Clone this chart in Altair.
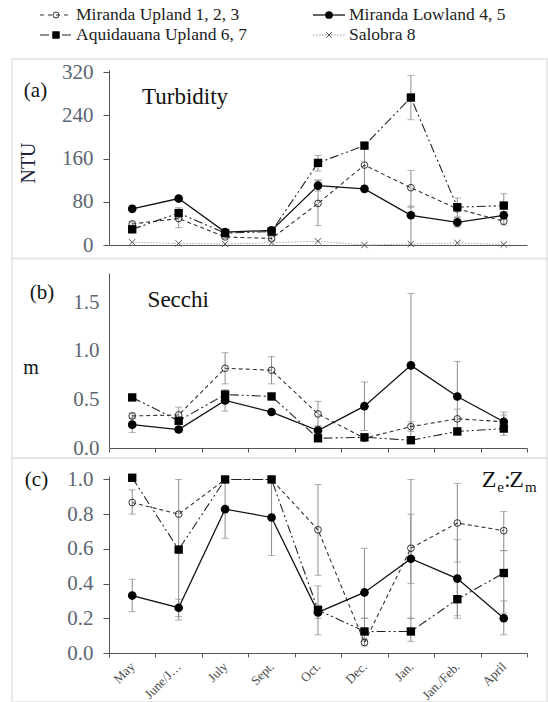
import json
import altair as alt
import pandas as pd

FONT = "'Liberation Serif', 'Times New Roman', Times, serif"

months = ["May", "June/July", "July", "Sept.", "Oct.", "Dec.", "Jan.", "Jan./Feb.", "April"]
series_names = ["Miranda Upland 1, 2, 3", "Miranda Lowland 4, 5",
                "Aquidauana Upland 6, 7", "Salobra 8"]

# ---- (a) Turbidity, NTU ----
turb_up = [39, 49, 15, 12, 77, 148, 106, 67, 44]
turb_up_lo = [35, 32, 12, 9, 36, 110, 70, None, 37]
turb_up_hi = [43, 69, 18, 15, 120, 180, 138, None, 49]
turb_low = [67, 86, 24, 27, 110, 104, 55, 42, 55]
turb_low_lo = [61, 82, 21, 22, 100, None, 0, 33, 47]
turb_low_hi = [73, 90, 27, 32, 120, None, 72, 51, 62]
turb_aq = [29, 59, 22, 25, 152, 184, 273, 70, 73]
turb_aq_lo = [26, 50, 19, 21, 137, None, 232, 52, 50]
turb_aq_hi = [32, 66, 25, 30, 166, None, 314, 87, 95]
turb_sal = [5, 3, 2, 4, 7, 0, 2, 4, 1]

# ---- (b) Secchi, m ----
sec_up = [0.33, 0.34, 0.82, 0.80, 0.35, 0.10, 0.22, 0.30, 0.27]
sec_up_lo = [0.30, 0.28, 0.66, 0.66, 0.22, None, 0.17, 0.21, 0.20]
sec_up_hi = [0.36, 0.42, 0.98, 0.94, 0.48, None, 0.27, 0.40, 0.34]
sec_low = [0.24, 0.19, 0.49, 0.37, 0.18, 0.43, 0.85, 0.53, 0.27]
sec_low_lo = [0.16, 0.16, 0.38, None, 0.13, 0.18, 0.11, 0.17, 0.13]
sec_low_hi = [0.31, 0.22, 0.60, None, 0.23, 0.68, 1.59, 0.89, 0.37]
sec_aq = [0.52, 0.28, 0.55, 0.53, 0.10, 0.11, 0.08, 0.17, 0.20]

# ---- (c) Ze:Zm ----
zz_up = [0.867, 0.80, 1.0, 1.0, 0.71, 0.061, 0.604, 0.749, 0.705]
zz_up_lo = [0.80, None, None, None, 0.448, 0.04, 0.20, 0.524, 0.59]
zz_up_hi = [0.94, None, None, None, 0.971, 0.08, 1.0, 0.977, 0.815]
zz_low = [0.331, 0.261, 0.829, 0.781, 0.234, 0.349, 0.543, 0.429, 0.20]
zz_low_lo = [0.238, 0.19, 0.661, 0.562, 0.105, 0.20, 0.40, 0.215, 0.105]
zz_low_hi = [0.425, 0.31, 1.0, 1.0, 0.387, 0.604, 0.80, 0.653, 0.30]
zz_aq = [1.01, 0.596, 1.0, 1.0, 0.248, 0.124, 0.124, 0.31, 0.461]
zz_aq_lo = [None, 0.21, None, None, 0.20, 0.067, 0.067, 0.20, 0.229]
zz_aq_hi = [None, 1.0, None, None, 0.276, 0.20, 0.20, 0.41, 0.59]

NONE9 = [None] * 9


def long_df(entries):
    rows = []
    for name, vals, lo, hi in entries:
        for i, m in enumerate(months):
            rows.append({"idx": i, "month": m, "series": name, "value": vals[i],
                         "lo": lo[i], "hi": hi[i]})
    return pd.DataFrame(rows)


df_a = long_df([
    (series_names[0], turb_up, turb_up_lo, turb_up_hi),
    (series_names[1], turb_low, turb_low_lo, turb_low_hi),
    (series_names[2], turb_aq, turb_aq_lo, turb_aq_hi),
    (series_names[3], turb_sal, NONE9, NONE9),
])
df_b = long_df([
    (series_names[0], sec_up, sec_up_lo, sec_up_hi),
    (series_names[1], sec_low, sec_low_lo, sec_low_hi),
    (series_names[2], sec_aq, NONE9, NONE9),
])
df_c = long_df([
    (series_names[0], zz_up, zz_up_lo, zz_up_hi),
    (series_names[1], zz_low, zz_low_lo, zz_low_hi),
    (series_names[2], zz_aq, zz_aq_lo, zz_aq_hi),
])

STYLES = {
    series_names[0]: dict(dash=[4, 3], width=1.1, color="#333333", shape="circle",
                          filled=False, size=45, pcolor="#333333"),
    series_names[1]: dict(dash=None, width=1.3, color="#111111", shape="circle",
                          filled=True, size=75, pcolor="#000000"),
    series_names[2]: dict(dash=[9, 3, 2, 3, 2, 3], width=1.1, color="#222222",
                          shape="square", filled=True, size=70, pcolor="#000000"),
    series_names[3]: dict(dash=[1.5, 1.5], width=1.0, color="#a8a8a8",
                          shape="M-1,-1L1,1M-1,1L1,-1", filled=False, size=40,
                          pcolor="#555555"),
}

EB = "#8c8c8c"
W = 418
TICKLAB = "#5c6572"


def x_enc(show_labels, show_ticks):
    vals = [i / 2 - 0.5 for i in range(19)]
    expr = "datum.value % 1 === 0 ? " + json.dumps(months) + "[datum.value] : ''"
    axis = alt.Axis(
        values=vals, title=None, grid=False, labels=show_labels, labelExpr=expr,
        labelAngle=-45, labelAlign="right", labelBaseline="middle",
        labelFont=FONT, labelFontSize=13, labelColor="#4a4a4a", labelLimit=49,
        labelOverlap=False, labelFlush=False, labelPadding=7,
        ticks=show_ticks, tickSize=4, tickColor="#555555",
        tickOpacity={"condition": {"test": "datum.value % 1 !== 0", "value": 1}, "value": 0},
        domainColor="#555555",
    )
    return alt.X("idx:Q", scale=alt.Scale(domain=[-0.5, 8.5], nice=False), axis=axis)


def y_axis(values, fmt, ticks):
    return alt.Axis(values=values, format=fmt, title=None, grid=False,
                    labelFont=FONT, labelFontSize=21, labelColor=TICKLAB,
                    labelPadding=10, ticks=ticks, tickSize=6, tickColor="#555555",
                    domainColor="#555555")


def text(t, x, y, size, align="left", baseline="alphabetic", color="#111111", angle=0):
    return alt.Chart(pd.DataFrame({"t": [t]})).mark_text(
        font=FONT, fontSize=size, align=align, baseline=baseline, color=color, angle=angle
    ).encode(text="t:N", x=alt.value(x), y=alt.value(y))


def border(y0, y1):
    return alt.Chart(pd.DataFrame({"k": [0]})).mark_rect(
        fillOpacity=0, stroke="#e2e2e2", strokeWidth=1.5
    ).encode(x=alt.value(12 - 109), x2=alt.value(547 - 109), y=alt.value(y0), y2=alt.value(y1))


def panel(df, domain, values, fmt, height, show_labels, xticks, yticks, extras):
    X = x_enc(show_labels, xticks)
    scale = alt.Scale(domain=domain, nice=False, zero=False)
    yax = y_axis(values, fmt, yticks)
    layers = list(extras[:1])
    err_layers, line_layers, pt_layers = [], [], []
    for s in df["series"].unique():
        st = STYLES[s]
        base = alt.Chart(df).transform_filter(alt.datum.series == s)
        err = base.transform_filter("isValid(datum.lo) && isValid(datum.hi)")
        err_layers.append(err.mark_rule(color=EB, strokeWidth=1).encode(
            x=X, y=alt.Y("lo:Q", scale=scale, axis=yax), y2="hi:Q"))
        for f in ("lo", "hi"):
            err_layers.append(err.mark_tick(orient="horizontal", size=7, thickness=1,
                                            color=EB).encode(
                x=X, y=alt.Y(f + ":Q", scale=scale, axis=yax)))
        lkw = dict(color=st["color"], strokeWidth=st["width"])
        if st["dash"]:
            lkw["strokeDash"] = st["dash"]
        line_layers.append(base.mark_line(**lkw).encode(
            x=X, y=alt.Y("value:Q", scale=scale, axis=yax)))
        pkw = dict(shape=st["shape"], filled=st["filled"], size=st["size"],
                   color=st["pcolor"], opacity=1, strokeWidth=1)
        pt_layers.append(base.mark_point(**pkw).encode(
            x=X, y=alt.Y("value:Q", scale=scale, axis=yax)))
    layers += err_layers + line_layers + pt_layers + list(extras[1:])
    return alt.layer(*layers).properties(width=W, height=height)


# ---- legend ----
leg_rows = [0, 0, 1, 1]
leg_cols = [0, 1, 0, 1]
leg_df = pd.DataFrame({"series": series_names, "row": leg_rows, "col": leg_cols})
LX = alt.X("col:Q", scale=alt.Scale(domain=[0, 1], range=[-69, 204]), axis=None)
LY = alt.Y("row:Q", scale=alt.Scale(domain=[0, 1], range=[15, 35]), axis=None)

leg_layers = [
    alt.Chart(pd.DataFrame({"k": [0]})).mark_rect(opacity=0).encode(
        x=alt.value(-109), x2=alt.value(548 - 109), y=alt.value(0), y2=alt.value(702))
]
for s in series_names:
    st = STYLES[s]
    b = alt.Chart(leg_df).transform_filter(alt.datum.series == s)
    rkw = dict(color=st["color"] if s != series_names[3] else "#999999",
               strokeWidth=st["width"], x2Offset=32)
    if st["dash"]:
        rkw["strokeDash"] = st["dash"] if s != series_names[0] else [4, 4]
    leg_layers.append(b.mark_rule(**rkw).encode(x=LX, x2="col:Q", y=LY))
    leg_layers.append(b.mark_point(shape=st["shape"], filled=st["filled"],
                                   size=st["size"] * 0.8, color=st["pcolor"], opacity=1,
                                   strokeWidth=1, xOffset=16).encode(x=LX, y=LY))
leg_layers.append(alt.Chart(leg_df).mark_text(
    font=FONT, fontSize=17.5, align="left", baseline="middle", dx=36, color="#222222"
).encode(x=LX, y=LY, text="series:N"))
legend = alt.layer(*leg_layers).properties(width=W, height=42)

# ---- panels ----
pa = panel(df_a, [0, 324], [0, 80, 160, 240, 320], "d", 175, False, False, True, [
    border(-11, 188.5),
    text("(a)", -73.5, 21, 21, align="center", baseline="middle"),
    text("Turbidity", 33, 34, 23),
    text("NTU", -80, 93, 20, align="center", baseline="middle", color="#1e1e3c", angle=270),
])
pb = panel(df_b, [0, 1.8], [0, 0.5, 1.0, 1.5], ".1f", 175, False, True, False, [
    border(-14.5, 185),
    text("(b)", -67, 19.5, 21, align="center", baseline="middle"),
    text("Secchi", 38.6, 33.7, 23),
    text("m", -78, 95, 20, align="center", baseline="middle"),
])
pc = panel(df_c, [0, 1.02], [0, 0.2, 0.4, 0.6, 0.8, 1.0], ".1f", 177, True, True, True, [
    border(-18, 226),
    text("(c)", -72.5, 4, 21, align="center", baseline="middle"),
    text("Z", 372.7, 11, 24),
    text("e", 388.3, 16, 15),
    text(":", 395, 11, 24),
    text("Z", 400.3, 11, 24),
    text("m", 416, 16, 15),
])

chart = alt.vconcat(legend, pa, pb, pc, spacing=28, bounds="flush", padding=0,
                    background="white").configure_view(stroke=None)

chart.save("out.html", embed_options={"renderer": "svg", "actions": False})
